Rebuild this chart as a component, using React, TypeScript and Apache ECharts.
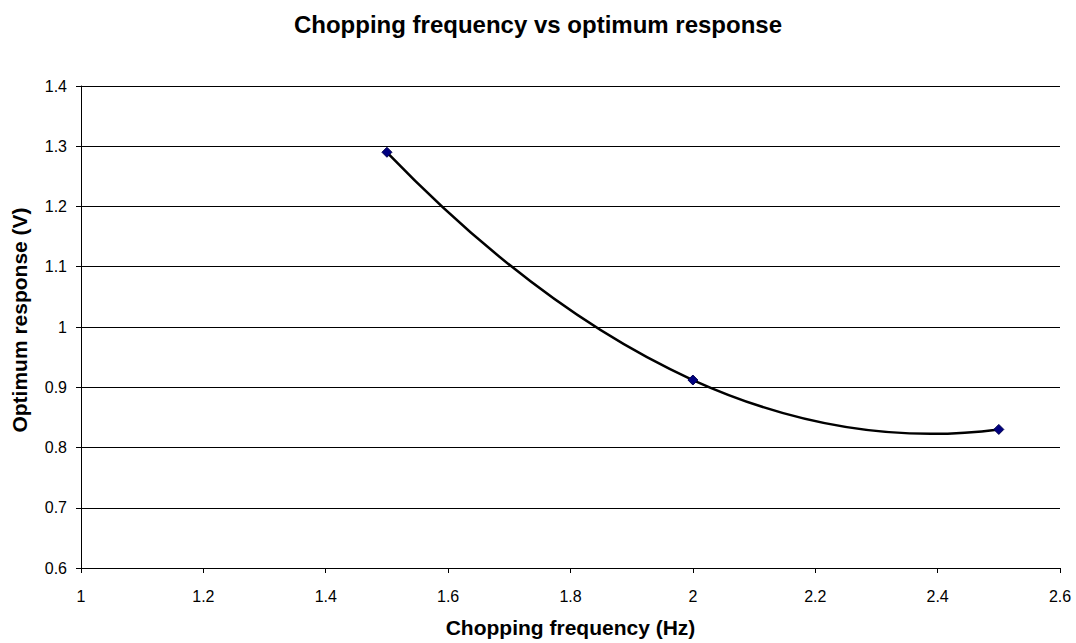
import React, { useEffect, useRef } from "react";
import * as echarts from "echarts";

const frequencies = [1.5, 2.0, 2.5];
const responses = [1.29, 0.912, 0.83];
const titleText = "Chopping frequency vs optimum response";
const xName = "Chopping frequency (Hz)";
const yName = "Optimum response (V)";

export default function App() {
  const ref = useRef<HTMLDivElement>(null);
  useEffect(() => {
    if (!ref.current) return;
    const chart = echarts.init(ref.current, null, { renderer: "svg" });
    const pts = frequencies.map((x, i) => [x, responses[i]]);
    const font = "Liberation Sans, Arial, sans-serif";
    chart.setOption({
      animation: false,
      backgroundColor: "#fff",
      title: {
        text: titleText,
        left: "center",
        top: 12,
        padding: 0,
        textStyle: { fontFamily: font, fontWeight: "bold", fontSize: 24, color: "#000" },
      },
      grid: { left: 81, right: 16, top: 86, bottom: 71 },
      xAxis: {
        type: "value",
        min: 1,
        max: 2.6,
        interval: 0.2,
        name: xName,
        nameLocation: "middle",
        nameGap: 49,
        nameTextStyle: { fontFamily: font, fontWeight: "bold", fontSize: 21, color: "#000" },
        axisLine: { show: true, onZero: false, lineStyle: { color: "#000", width: 1 } },
        axisTick: { show: true, inside: false, length: 5, lineStyle: { color: "#000" } },
        axisLabel: { color: "#000", fontFamily: font, fontSize: 16, margin: 20 },
        splitLine: { show: false },
      },
      yAxis: {
        type: "value",
        min: 0.6,
        max: 1.4,
        interval: 0.1,
        name: yName,
        nameLocation: "middle",
        nameGap: 51,
        nameTextStyle: {
          fontFamily: font,
          fontWeight: "bold",
          fontSize: 21,
          color: "#000",
          padding: [0, 0, 0, 14],
        },
        axisLine: { show: true, lineStyle: { color: "#000", width: 1 } },
        axisTick: { show: true, inside: false, length: 5, lineStyle: { color: "#000" } },
        axisLabel: { color: "#000", fontFamily: font, fontSize: 16, margin: 14 },
        splitLine: { show: true, lineStyle: { color: "#000", width: 1 } },
      },
      series: [
        {
          type: "custom",
          data: pts,
          z: 2,
          renderItem: (params: any, api: any) => {
            const i = params.dataIndex;
            const n = pts.length;
            if (i >= n - 1) return null;
            const P = pts.map((p) => api.coord(p));
            const T: number[][] = [];
            for (let k = 1; k < n - 1; k++) {
              T[k] = [(P[k + 1][0] - P[k - 1][0]) / 2, (P[k + 1][1] - P[k - 1][1]) / 2];
            }
            if (n >= 3) {
              T[0] = [2 * (P[1][0] - P[0][0]) - T[1][0], 2 * (P[1][1] - P[0][1]) - T[1][1]];
              T[n - 1] = [
                2 * (P[n - 1][0] - P[n - 2][0]) - T[n - 2][0],
                2 * (P[n - 1][1] - P[n - 2][1]) - T[n - 2][1],
              ];
            } else {
              T[0] = [P[1][0] - P[0][0], P[1][1] - P[0][1]];
              T[1] = T[0];
            }
            const a = P[i];
            const b = P[i + 1];
            return {
              type: "bezierCurve",
              shape: {
                x1: a[0],
                y1: a[1],
                x2: b[0],
                y2: b[1],
                cpx1: a[0] + T[i][0] / 3,
                cpy1: a[1] + T[i][1] / 3,
                cpx2: b[0] - T[i + 1][0] / 3,
                cpy2: b[1] - T[i + 1][1] / 3,
              },
              style: { stroke: "#000", lineWidth: 2.5, fill: "none" },
            };
          },
        },
        {
          type: "scatter",
          data: pts,
          z: 3,
          symbol: "diamond",
          symbolSize: 10,
          itemStyle: { color: "#000080", borderColor: "#000050", borderWidth: 1, opacity: 1 },
        },
      ],
    });
    return () => chart.dispose();
  }, []);
  return (
    <div
      ref={ref}
      style={{ position: "absolute", left: 0, top: 0, width: 1076, height: 643 }}
    />
  );
}
